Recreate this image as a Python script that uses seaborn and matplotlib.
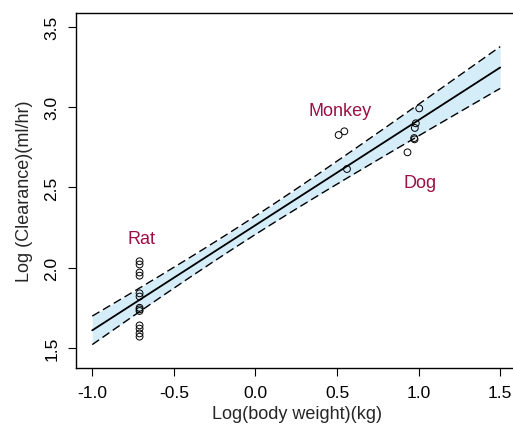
import numpy as np
import pandas as pd
import matplotlib
matplotlib.use("Agg")
import matplotlib.pyplot as plt
import seaborn as sns

# Log10 body weight (kg) and log10 clearance (ml/hr) by species
rat_logbw = [-0.71] * 13
rat_logcl = [2.04, 2.02, 1.97, 1.95, 1.84, 1.82, 1.75, 1.74, 1.73, 1.64, 1.62, 1.59, 1.57]
monkey_logbw = [0.51, 0.545, 0.561]
monkey_logcl = [2.827, 2.85, 2.615]
dog_logbw = [1.004, 0.983, 0.977, 0.973, 0.975, 0.932]
dog_logcl = [2.993, 2.90, 2.871, 2.808, 2.80, 2.719]

species_labels = ["Rat", "Monkey", "Dog"]
label_x = [-0.70, 0.52, 1.01]
label_y = [2.18, 2.977, 2.53]

x_ticks = [-1.0, -0.5, 0.0, 0.5, 1.0, 1.5]
y_ticks = [1.5, 2.0, 2.5, 3.0, 3.5]

df = pd.DataFrame({
    "logbw": rat_logbw + monkey_logbw + dog_logbw,
    "logcl": rat_logcl + monkey_logcl + dog_logcl,
})

# Ordinary least squares fit with a 90% confidence band for the mean
x = df["logbw"].to_numpy()
y = df["logcl"].to_numpy()
n = len(x)
slope, intercept = np.polyfit(x, y, 1)
resid = y - (intercept + slope * x)
s = np.sqrt(np.sum(resid ** 2) / (n - 2))
sxx = np.sum((x - x.mean()) ** 2)
try:
    from scipy import stats
    tcrit = stats.t.ppf(0.95, n - 2)
except Exception:
    tcrit = 1.725  # t(0.95, 20 df)

grid = np.linspace(-1.0, 1.5, 200)
fit = intercept + slope * grid
se = s * np.sqrt(1.0 / n + (grid - x.mean()) ** 2 / sxx)
band = pd.DataFrame({"x": grid, "fit": fit, "lo": fit - tcrit * se, "hi": fit + tcrit * se})

sns.set_theme(style="ticks")
plt.rcParams["font.family"] = ["Liberation Sans", "DejaVu Sans"]

fig = plt.figure(figsize=(5.13, 4.27), dpi=100)
ax = fig.add_axes([0.148, 0.136, 0.862, 0.831])

ax.fill_between(band["x"], band["lo"], band["hi"], color="#d4edf9", linewidth=0, zorder=1)
sns.lineplot(data=band, x="x", y="fit", ax=ax, color="black", linewidth=1.3, zorder=3)
sns.lineplot(data=band, x="x", y="lo", ax=ax, color="black", linewidth=1.0,
             linestyle=(0, (6, 3)), zorder=3)
sns.lineplot(data=band, x="x", y="hi", ax=ax, color="black", linewidth=1.0,
             linestyle=(0, (6, 3)), zorder=3)

sns.scatterplot(data=df, x="logbw", y="logcl", ax=ax, marker="o", s=24,
                facecolors="none", edgecolor="black", linewidth=0.7, zorder=4)

for lab, lx, ly in zip(species_labels, label_x, label_y):
    ax.text(lx, ly, lab, color="#9b1046", fontsize=13, ha="center", va="center")

ax.set_xlim(-1.1, 1.61)
ax.set_ylim(1.375, 3.587)
ax.set_xticks(x_ticks)
ax.set_xticklabels([f"{v:.1f}" for v in x_ticks])
ax.set_yticks(y_ticks)
ax.set_yticklabels([f"{v:.1f}" for v in y_ticks], rotation=90, va="center")
ax.tick_params(axis="both", labelsize=12.5, length=6, width=0.8, color="black",
               labelcolor="black", pad=6)
ax.set_xlabel("Log(body weight)(kg)", fontsize=13, labelpad=4)
ax.set_ylabel("Log (Clearance)(ml/hr)", fontsize=13, labelpad=8)
for side in ["left", "top", "bottom"]:
    ax.spines[side].set_color("black")
    ax.spines[side].set_linewidth(1.0)
ax.spines["right"].set_visible(False)

fig.savefig("out.png", dpi=100)
